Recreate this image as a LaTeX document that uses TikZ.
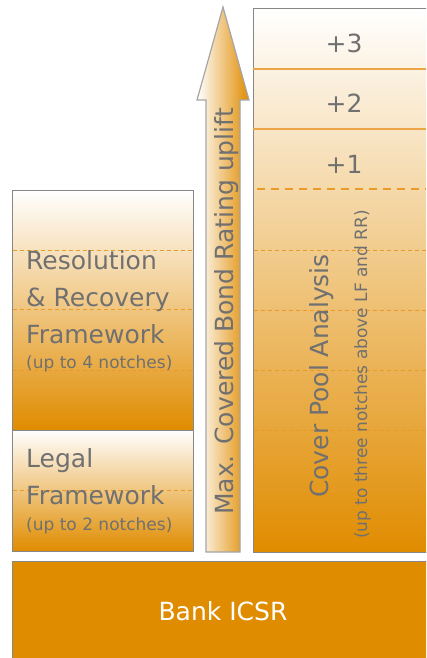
\documentclass[tikz,border=0pt]{standalone}
\usepackage{fontspec}
\setmainfont{DejaVu Sans}
\definecolor{org}{RGB}{224,140,0}
\definecolor{dashorg}{RGB}{232,155,40}
\definecolor{lineorg}{RGB}{235,165,70}
\definecolor{txtgray}{RGB}{112,112,112}
\definecolor{boxgray}{RGB}{135,135,135}
\definecolor{arrgray}{RGB}{165,165,165}
\tikzset{
  gradbox/.style={draw=boxgray, line width=1pt, top color=white, bottom color=org},
  thindash/.style={draw=dashorg, line width=0.8pt, dash pattern=on 4pt off 3pt},
  thickdash/.style={draw=dashorg, line width=1.5pt, dash pattern=on 8pt off 6pt},
  solidsep/.style={draw=lineorg, line width=1.2pt},
  bigtxt/.style={font=\fontsize{25}{30}\selectfont, text=txtgray, inner sep=0pt},
  smalltxt/.style={font=\fontsize{17}{20}\selectfont, text=txtgray, inner sep=0pt},
}
\begin{document}
\begin{tikzpicture}[x=1pt,y=-1pt]
\useasboundingbox (0,0) rectangle (426,658);
\clip (0,0) rectangle (426,658);

% boxes
\path[gradbox] (12,190) rectangle (193,430);
\path[gradbox] (12,430) rectangle (193,551);
\path[gradbox] (253,9) rectangle (440,552);
\path[draw=boxgray, line width=1pt, fill=org] (12,561) rectangle (440,680);

% arrow
\path[draw=arrgray, line width=1.2pt, left color=white, right color=org]
  (206,552) -- (206,100) -- (197,100) -- (223,7) -- (249,100) -- (240,100) -- (240,552) -- cycle;

% separators in the right box
\draw[solidsep] (253,69) -- (426,69);
\draw[solidsep] (253,129) -- (426,129);
\draw[thickdash] (257,189) -- (426,189);
\foreach \yy in {250,310,370,430,490} \draw[thindash] (253.5,\yy) -- (426,\yy);

% separators in the left boxes
\foreach \yy in {250,309,370} \draw[thindash] (12.5,\yy) -- (192.5,\yy);
\draw[thindash] (12.5,490) -- (192.5,490);

% texts left
\node[bigtxt, anchor=base west] (r1) at (26,269) {Resolution};
\node[bigtxt, anchor=base west] (r2) at (26,306) {\& Recovery};
\node[bigtxt, anchor=base west] (r3) at (26,343) {Framework};
\node[smalltxt, anchor=base west] (r4) at (26,368) {(up to 4 notches)};
\node[bigtxt, anchor=base west] (l1) at (26,467) {Legal};
\node[bigtxt, anchor=base west] (l2) at (26,504) {Framework};
\node[smalltxt, anchor=base west] (l3) at (26,530) {(up to 2 notches)};

% texts right
\node[bigtxt, anchor=base] (p3) at (344,53) {+3};
\node[bigtxt, anchor=base] (p2) at (344,113) {+2};
\node[bigtxt, anchor=base] (p1) at (344,173) {+1};
\node[bigtxt, anchor=base, rotate=90] (cpa) at (328,376) {Cover Pool Analysis};
\node[smalltxt, anchor=base, rotate=90] (cpn) at (367,374.5) {(up to three notches above LF and RR)};

% arrow text
\node[bigtxt, anchor=base, rotate=90] (max) at (233,311.5) {Max. Covered Bond Rating uplift};

% bank
\node[bigtxt, text=white, anchor=base] (bank) at (223,620) {Bank ICSR};
\end{tikzpicture}
\end{document}
